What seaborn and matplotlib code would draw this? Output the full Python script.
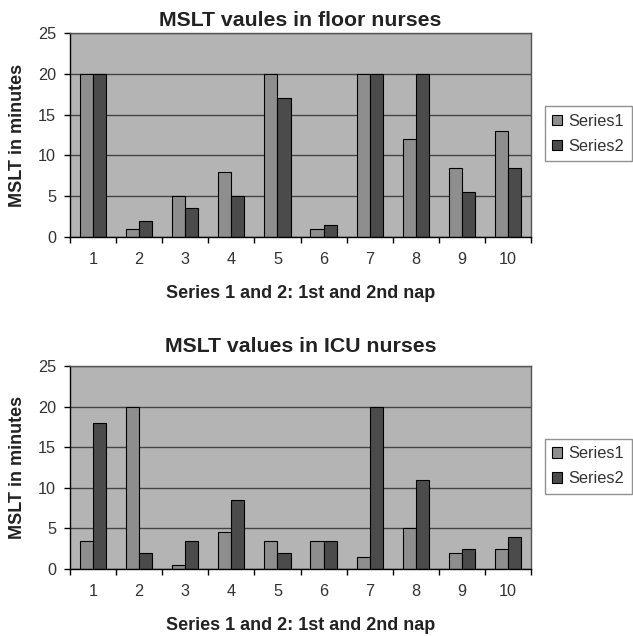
import matplotlib
matplotlib.use("Agg")
import matplotlib.pyplot as plt
import seaborn as sns
import pandas as pd
import numpy as np
from matplotlib.ticker import FixedLocator

nurses = ["1", "2", "3", "4", "5", "6", "7", "8", "9", "10"]
series_names = ["Series1", "Series2"]

floor_series1 = [20, 1, 5, 8, 20, 1, 20, 12, 8.5, 13]
floor_series2 = [20, 2, 3.5, 5, 17, 1.5, 20, 20, 5.5, 8.5]

icu_series1 = [3.5, 20, 0.5, 4.5, 3.5, 3.5, 1.5, 5, 2, 2.5]
icu_series2 = [18, 2, 3.5, 8.5, 2, 3.5, 20, 11, 2.5, 4]

titles = ["MSLT vaules in floor nurses", "MSLT values in ICU nurses"]
xlabel = "Series 1 and 2: 1st and 2nd nap"
ylabel = "MSLT in minutes"
yticks = [0, 5, 10, 15, 20, 25]

sns.set_theme(style="white")
plt.rcParams["font.family"] = ["Liberation Sans", "DejaVu Sans"]

colors = ["#8e8e8e", "#4b4b4b"]
bg = "#b4b4b4"

fig = plt.figure(figsize=(6.33, 6.36), dpi=100)
W, H = 633, 636


def make_ax(top_px, bottom_px):
    left_px, right_px = 70, 531
    return fig.add_axes([left_px / W, 1 - bottom_px / H,
                         (right_px - left_px) / W, (bottom_px - top_px) / H])


panels = [
    (floor_series1, floor_series2, titles[0], 33, 237, 13),
    (icu_series1, icu_series2, titles[1], 366, 569, 19),
]

for s1, s2, title, top_px, bot_px, title_gap in panels:
    ax = make_ax(top_px, bot_px)
    h = bot_px - top_px
    df = pd.DataFrame({
        "nurse": nurses * 2,
        "series": [series_names[0]] * len(nurses) + [series_names[1]] * len(nurses),
        "value": list(s1) + list(s2),
    })
    sns.barplot(data=df, x="nurse", y="value", hue="series", order=nurses,
                hue_order=series_names, palette=colors, width=0.57, gap=0,
                edgecolor="black", linewidth=0.8, ax=ax, errorbar=None,
                saturation=1)
    ax.set_facecolor(bg)
    ax.set_xlim(-0.5, len(nurses) - 0.5)
    ax.set_ylim(0, 25)
    ax.set_yticks(yticks)
    ax.set_yticklabels([str(t) for t in yticks])
    ax.yaxis.grid(True, color="#444444", linewidth=1.0)
    ax.set_axisbelow(True)
    ax.xaxis.set_minor_locator(FixedLocator(np.arange(-0.5, len(nurses), 1.0)))
    ax.tick_params(axis="x", which="major", length=0, pad=11, labelsize=11.7,
                   colors="#333333")
    ax.tick_params(axis="x", which="minor", length=4, width=1, color="black",
                   direction="out", bottom=True)
    ax.tick_params(axis="y", which="major", length=4, width=1, color="black",
                   direction="out", left=True, pad=6, labelsize=11.7,
                   labelcolor="#333333")
    for side in ["left", "bottom"]:
        ax.spines[side].set_color("black")
        ax.spines[side].set_linewidth(1.0)
    for side in ["top", "right"]:
        ax.spines[side].set_color("#555555")
        ax.spines[side].set_linewidth(1.0)

    ax.set_title(title, fontsize=15.3, fontweight="bold", color="#222222",
                 y=1 + title_gap / h, va="center", pad=0)
    ax.set_xlabel(xlabel, fontsize=13, fontweight="bold", color="#222222")
    ax.xaxis.set_label_coords(0.5, 1 - (bot_px + 56 - top_px) / h)
    ax.xaxis.label.set_va("center")
    ax.set_ylabel(ylabel, fontsize=13, fontweight="bold", color="#222222")
    ax.yaxis.set_label_coords((18 - 70) / 461, 0.5)
    ax.yaxis.label.set_va("center")

    leg = ax.legend(loc="upper left", bbox_to_anchor=(1.03, 0.64),
                    borderaxespad=0, fontsize=11.8, frameon=True, fancybox=False,
                    handlelength=0.6, handleheight=0.6, handletextpad=0.4,
                    labelspacing=0.6, borderpad=0.45, title=None)
    leg.get_frame().set_edgecolor("#777777")
    leg.get_frame().set_linewidth(1.0)
    for t in leg.get_texts():
        t.set_color("#333333")

fig.savefig("out.png", dpi=100, facecolor="white")
